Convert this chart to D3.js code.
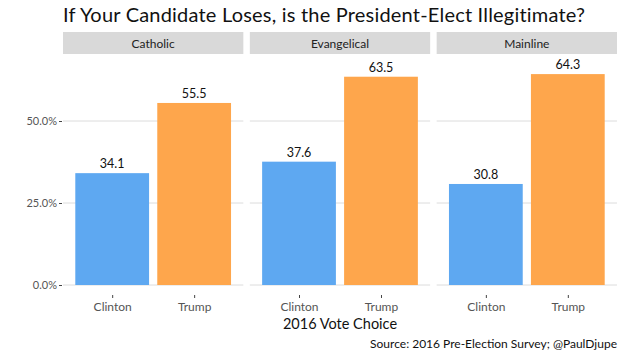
<!DOCTYPE html>
<html><head><meta charset="utf-8">
<script src="https://cdn.jsdelivr.net/npm/d3@7"></script>
<style>body{margin:0;background:#fff}svg{display:block}text{font-family:Lato,"Noto Sans",sans-serif}</style>
</head><body>
<svg id="c" width="624" height="356"></svg>
<script>
const panels = ["Catholic", "Evangelical", "Mainline"];
const candidates = ["Clinton", "Trump"];
const clintonValues = [34.1, 37.6, 30.8];
const trumpValues = [55.5, 63.5, 64.3];
const yTicks = [0, 25, 50];
const colors = {Clinton: "#5ea8f1", Trump: "#fea64c"};

const svg = d3.select("#c");
const panelLeft = 63, panelRight = 617, gap = 6.5;
const panelW = (panelRight - panelLeft - 2 * gap) / 3;
const stripTop = 32, stripH = 22;
const y = d3.scaleLinear().domain([0, 50]).range([285, 121]);
const plotBottom = 295;

svg.append("text").attr("x", 63).attr("y", 22).attr("font-size", 20).attr("letter-spacing", 0.2).attr("fill", "#111")
  .text("If Your Candidate Loses, is the President-Elect Illegitimate?");

const yAxis = d3.axisLeft(y).tickValues(yTicks).tickSize(3).tickPadding(2).tickFormat(d => d.toFixed(1) + "%");
const ya = svg.append("g").attr("transform", `translate(${panelLeft - 1},0)`).call(yAxis);
ya.select(".domain").remove();
ya.selectAll("line").attr("stroke", "#444");
ya.selectAll("text").attr("font-size", 11).attr("fill", "#555");

panels.forEach((p, i) => {
  const x0 = panelLeft + i * (panelW + gap);
  const g = svg.append("g").attr("transform", `translate(${x0},0)`);
  g.append("rect").attr("x", 0).attr("y", stripTop).attr("width", panelW).attr("height", stripH).attr("fill", "#d9d9d9");
  g.append("text").attr("x", panelW / 2).attr("y", stripTop + 15.5).attr("text-anchor", "middle")
    .attr("font-size", 12).attr("fill", "#222").text(p);
  const xPos = d3.scaleLinear().domain([0.4, 2.6]).range([0, panelW]);
  const bw = xPos(0.9) - xPos(0);
  const cx = c => xPos(candidates.indexOf(c) + 1);
  yTicks.forEach(t => g.append("line").attr("x1", 0).attr("x2", panelW).attr("y1", y(t)).attr("y2", y(t))
    .attr("stroke", "#dcdcdc").attr("stroke-width", 1));
  const vals = [clintonValues[i], trumpValues[i]];
  candidates.forEach((c, j) => {
    g.append("rect").attr("x", cx(c) - bw / 2).attr("y", y(vals[j])).attr("width", bw)
      .attr("height", y(0) - y(vals[j])).attr("fill", colors[c]);
    g.append("text").attr("x", cx(c)).attr("y", y(vals[j]) - 5)
      .attr("text-anchor", "middle").attr("font-size", 12.5).attr("fill", "#111").text(vals[j].toFixed(1));
  });
  const xa = g.append("g").attr("transform", `translate(0,${plotBottom})`)
    .call(d3.axisBottom(xPos).tickValues([1, 2]).tickFormat(d => candidates[d - 1]).tickSize(3).tickPadding(4));
  xa.select(".domain").remove();
  xa.selectAll("line").attr("stroke", "#444");
  xa.selectAll("text").attr("font-size", 12).attr("fill", "#555");
});

svg.append("text").attr("x", (panelLeft + panelRight) / 2).attr("y", 329).attr("text-anchor", "middle")
  .attr("font-size", 14.5).attr("fill", "#111").text("2016 Vote Choice");
svg.append("text").attr("x", panelRight).attr("y", 348).attr("text-anchor", "end")
  .attr("font-size", 12).attr("fill", "#111").text("Source: 2016 Pre-Election Survey; @PaulDjupe");
</script>
</body></html>
